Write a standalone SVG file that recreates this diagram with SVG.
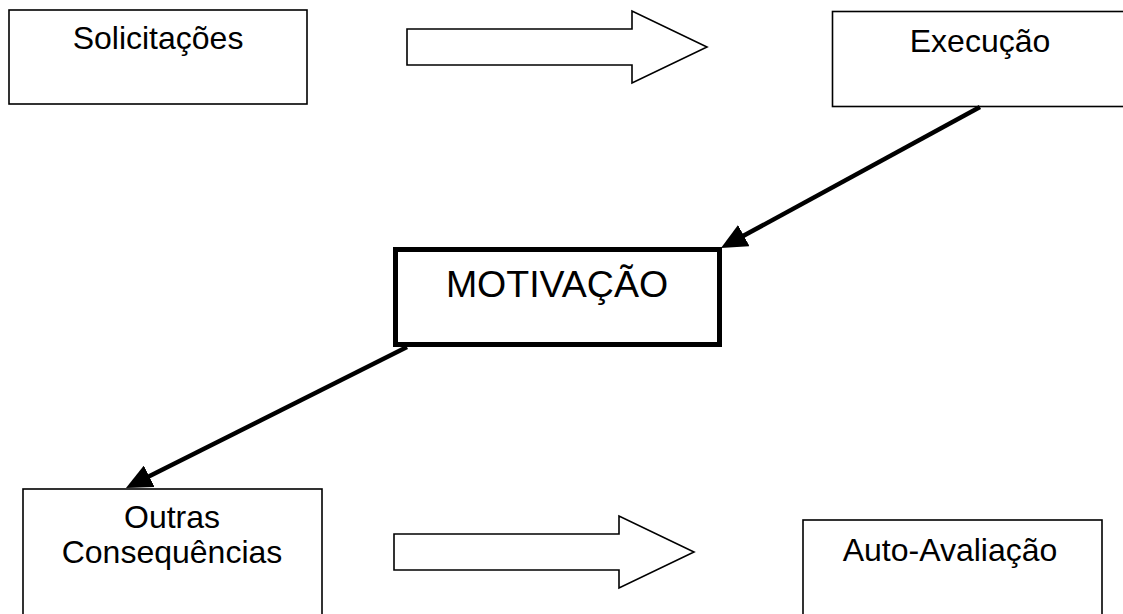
<svg xmlns="http://www.w3.org/2000/svg" width="1123" height="614" viewBox="0 0 1123 614">
  <style>
    .box { fill: #ffffff; stroke: #000000; stroke-width: 1.6; }
    .box-strong { fill: #ffffff; stroke: #000000; stroke-width: 5; }
    .block-arrow { fill: #ffffff; stroke: #000000; stroke-width: 1.6; stroke-linejoin: miter; }
    .label { font-family: "Liberation Sans", Arial, sans-serif; font-size: 32px; fill: #000000; text-anchor: middle; }
    .label-big { font-family: "Liberation Sans", Arial, sans-serif; font-size: 37.5px; fill: #000000; text-anchor: middle; }
    .connector { stroke: #000000; stroke-width: 4.5; fill: none; marker-end: url(#head); }
  </style>
  <defs>
    <marker id="head" viewBox="0 0 26 24" refX="14" refY="12" markerWidth="26" markerHeight="24" markerUnits="userSpaceOnUse" orient="auto">
      <path d="M0,0 L26,12 L0,24 Z" fill="#000000"/>
    </marker>
  </defs>

  <rect width="1123" height="614" fill="#ffffff"/>

  <g id="solicitacoes">
    <rect class="box" x="9" y="10" width="298" height="94"/>
    <text class="label" x="158" y="49">Solicitações</text>
  </g>

  <g id="execucao">
    <rect class="box" x="832.5" y="11.5" width="300" height="95"/>
    <text class="label" x="980" y="52">Execução</text>
  </g>

  <g id="motivacao">
    <rect class="box-strong" x="395.5" y="249.5" width="324" height="95"/>
    <text class="label-big" x="557" y="297">MOTIVAÇÃO</text>
  </g>

  <g id="outras-consequencias">
    <rect class="box" x="23" y="489" width="299" height="140"/>
    <text class="label" x="172" y="528">Outras</text>
    <text class="label" x="172" y="563">Consequências</text>
  </g>

  <g id="auto-avaliacao">
    <rect class="box" x="803" y="520" width="299" height="110"/>
    <text class="label" x="950" y="561">Auto-Avaliação</text>
  </g>

  <g id="connectors">
    <polygon class="block-arrow" points="407,29 632,29 632,11 707,47 632,83 632,65 407,65"/>
    <polygon class="block-arrow" points="394,534 619,534 619,516 694,552 619,588 619,570 394,570"/>
    <line class="connector" x1="980" y1="107" x2="731.5" y2="242.3"/>
    <line class="connector" x1="407" y1="347" x2="136.7" y2="482.6"/>
  </g>
</svg>
